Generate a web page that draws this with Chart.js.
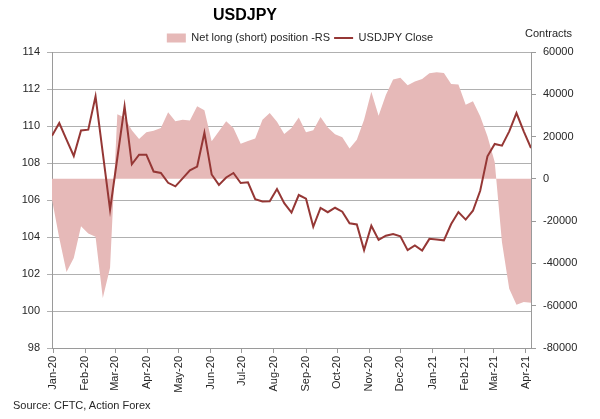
<!DOCTYPE html>
<html>
<head>
<meta charset="utf-8">
<script src="https://cdn.jsdelivr.net/npm/chart.js@4.4.0/dist/chart.umd.min.js"></script>
<style>
    body { margin: 0; background: #fff; }
    #wrap { position: relative; width: 600px; height: 419px; font-family: 'Liberation Sans', Arial, sans-serif; color: #262626; }
    #wrap canvas { position: absolute; left: 0; top: 0; }
    .txt { position: absolute; white-space: nowrap; line-height: 11px; font-size: 11px; }
    #title { position: absolute; left: 213px; top: 7px; font-size: 16px; line-height: 16px; font-weight: bold; color: #000; }
</style>
</head>
<body>
<div id="wrap">
    <canvas id="chart" width="600" height="419"></canvas>
    <div id="title">USDJPY</div>
    <div class="txt" style="left:525px; top:28px;">Contracts</div>
    <div class="txt" style="left:13px; top:400px;">Source: CFTC, Action Forex</div>
</div>
<script>
// weekly CFTC report dates, starting Tuesday 31 Dec 2019
const firstWeek = '2019-12-31';
const lastWeek = '2021-04-06';

const usdjpyClose = [
    109.47, 110.16, 109.26, 108.38, 109.76, 109.80, 111.60, 108.54, 105.48, 108.27,
    111.06, 107.93, 108.45, 108.45, 107.54, 107.46, 106.93, 106.74, 107.17, 107.60,
    107.81, 109.63, 107.38, 106.82, 107.22, 107.46, 106.92, 106.96, 106.05, 105.92,
    105.93, 106.59, 105.83, 105.32, 106.27, 106.07, 104.55, 105.57, 105.34, 105.58,
    105.37, 104.74, 104.68, 103.29, 104.61, 103.84, 104.07, 104.16, 104.04, 103.29,
    103.54, 103.27, 103.90, 103.86, 103.82, 104.70, 105.35, 104.94, 105.42, 106.50,
    108.36, 109.03, 108.94, 109.71, 110.70, 109.71, 108.81
];

const netPosition = [
    -9800, -28000, -44000, -37400, -22400, -25800, -27400, -56300, -42100, 30500,
    29000, 23000, 18800, 22000, 22700, 24000, 31500, 27300, 28000, 27600,
    34400, 32500, 17800, 22500, 27300, 24100, 16600, 17900, 19100, 28000,
    31200, 27000, 21200, 24000, 29000, 22000, 23000, 29300, 24300, 21100,
    19700, 14400, 18500, 28000, 41200, 29800, 39700, 47000, 47800, 44300,
    46000, 47200, 50000, 50400, 50100, 44900, 44600, 35100, 36700, 29600,
    20200, 8000, -30000, -52000, -59500, -58300, -58600
];

const tickDates = [
    '2020-01-01', '2020-02-01', '2020-03-01', '2020-04-01', '2020-05-01', '2020-06-01',
    '2020-07-01', '2020-08-01', '2020-09-01', '2020-10-01', '2020-11-01', '2020-12-01',
    '2021-01-01', '2021-02-01', '2021-03-01', '2021-04-01'
];
const tickLabels = [
    'Jan-20', 'Feb-20', 'Mar-20', 'Apr-20', 'May-20', 'Jun-20', 'Jul-20', 'Aug-20',
    'Sep-20', 'Oct-20', 'Nov-20', 'Dec-20', 'Jan-21', 'Feb-21', 'Mar-21', 'Apr-21'
];

const leftTicks = { min: 98, max: 114, step: 2 };
const rightTicks = { min: -80000, max: 60000, step: 20000 };

const DAY = 86400000;
const dayOf = (s) => (Date.parse(s) - Date.parse('2020-01-01')) / DAY;

const weekDays = [];
for (let i = 0; i < usdjpyClose.length; i++) {
    weekDays.push(dayOf(firstWeek) + 7 * i);
}
const tickDays = tickDates.map(dayOf);

const FONT = "'Liberation Sans', Arial, sans-serif";
const TEXT = '#262626';
const GRID = '#b0b0b0';
const AXIS = '#9a9a9a';
const PINK = '#e6b9b8';
const RED = '#953735';

const ctx = document.getElementById('chart').getContext('2d');

new Chart(ctx, {
    type: 'line',
    data: {
        datasets: [{
            label: 'Net long (short) position -RS',
            data: netPosition.map((v, i) => ({ x: weekDays[i], y: v })),
            yAxisID: 'y1',
            backgroundColor: PINK,
            borderColor: 'rgba(0,0,0,0)',
            borderWidth: 0,
            fill: 'origin',
            pointRadius: 0,
            pointStyle: 'rect',
            tension: 0,
            order: 1
        }, {
            label: 'USDJPY Close',
            data: usdjpyClose.map((v, i) => ({ x: weekDays[i], y: v })),
            yAxisID: 'y',
            borderColor: RED,
            backgroundColor: RED,
            borderWidth: 2,
            fill: false,
            pointRadius: 0,
            pointStyle: 'line',
            tension: 0,
            order: 0
        }]
    },
    options: {
        responsive: false,
        animation: false,
        layout: { padding: { top: 28.5, left: 0, right: 0, bottom: 0 } },
        plugins: {
            title: { display: false },
            tooltip: { enabled: false },
            legend: {
                position: 'top',
                maxHeight: 23.5,
                labels: {
                    usePointStyle: true,
                    pointStyleWidth: 19,
                    boxHeight: 9,
                    padding: 4,
                    color: TEXT,
                    font: { family: FONT, size: 11 },
                    sort: (a, b) => a.datasetIndex - b.datasetIndex
                }
            }
        },
        scales: {
            x: {
                type: 'linear',
                min: dayOf(firstWeek),
                max: dayOf(lastWeek),
                afterBuildTicks: (scale) => {
                    scale.ticks = tickDays.map(d => ({ value: d }));
                },
                afterFit: (scale) => { scale.height = 71; },
                ticks: {
                    autoSkip: false,
                    maxRotation: 90,
                    minRotation: 90,
                    padding: 3,
                    color: TEXT,
                    font: { family: FONT, size: 11 },
                    callback: (value) => tickLabels[tickDays.indexOf(value)]
                },
                grid: { drawOnChartArea: false, tickLength: 5, color: AXIS },
                border: { color: AXIS }
            },
            y: {
                position: 'left',
                min: leftTicks.min,
                max: leftTicks.max,
                afterFit: (scale) => { scale.width = 52; },
                ticks: {
                    stepSize: leftTicks.step,
                    padding: 7,
                    color: TEXT,
                    font: { family: FONT, size: 11 },
                    callback: (value) => String(value)
                },
                grid: { color: GRID, tickLength: 5 },
                border: { color: AXIS }
            },
            y1: {
                position: 'right',
                min: rightTicks.min,
                max: rightTicks.max,
                afterFit: (scale) => { scale.width = 69; },
                ticks: {
                    stepSize: rightTicks.step,
                    padding: 7,
                    color: TEXT,
                    font: { family: FONT, size: 11 },
                    callback: (value) => String(value)
                },
                grid: { drawOnChartArea: false, color: AXIS, tickLength: 5 },
                border: { color: AXIS }
            }
        }
    }
});
</script>
</body>
</html>
